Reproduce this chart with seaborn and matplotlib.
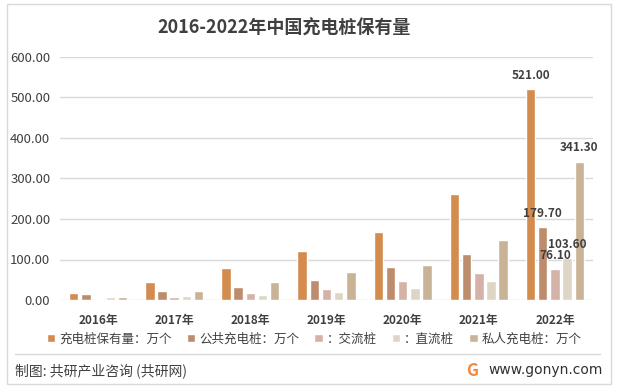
import pandas as pd
import matplotlib.pyplot as plt
import seaborn as sns
from matplotlib.patches import Rectangle

YEARS = ["2016年", "2017年", "2018年", "2019年", "2020年", "2021年", "2022年"]
SERIES = ["充电桩保有量：万个", "公共充电桩：万个", "：交流桩", "：直流桩", "私人充电桩：万个"]

total = [18.5, 43.5, 80.0, 122.0, 167.5, 262.0, 521.0]
public = [14.1, 21.4, 32.0, 50.0, 80.5, 114.7, 179.7]
ac = [2.5, 8.0, 17.5, 28.0, 48.0, 67.7, 76.1]
dc = [7.0, 10.5, 12.5, 20.5, 30.5, 46.5, 103.6]
private = [6.3, 23.2, 45.0, 70.3, 87.4, 147.0, 341.3]

COLORS = ["#D38B4E", "#BC8C6C", "#D5B2A8", "#DED6C4", "#C9B396"]
TXT = "#404040"

rows = []
for name, vals in zip(SERIES, [total, public, ac, dc, private]):
    for y, v in zip(YEARS, vals):
        rows.append({"year": y, "series": name, "value": v})
df = pd.DataFrame(rows)

sns.set_theme(style="white")
plt.rcParams["font.family"] = ["Noto Sans CJK SC", "DejaVu Sans"]

fig = plt.figure(figsize=(6.17, 3.9), dpi=100)
ax = fig.add_axes([60 / 617, 90 / 390, 533 / 617, 243 / 390])

sns.barplot(data=df, x="year", y="value", hue="series", order=YEARS,
            hue_order=SERIES, palette=COLORS, width=0.8, gap=0.22,
            saturation=1, ax=ax, legend=True, zorder=3)

ax.set_ylim(0, 600)
ax.set_yticks(range(0, 601, 100))
ax.set_yticklabels([f"{t:.2f}" for t in range(0, 601, 100)], fontsize=9.5, color=TXT)
ax.set_xlabel("")
ax.set_ylabel("")
ax.yaxis.grid(True, color="#D9D9D9", linewidth=1, zorder=0)
ax.set_axisbelow(True)
for s in ax.spines.values():
    s.set_visible(False)
ax.tick_params(axis="y", length=0, pad=7)
ax.tick_params(axis="x", length=0, pad=10)
for lab in ax.get_xticklabels():
    lab.set_fontsize(8.5)
    lab.set_fontweight("bold")
    lab.set_color(TXT)

# value labels for 2022 only
for cont, vals in zip(ax.containers, [total, public, ac, dc, private]):
    bar = cont.patches[-1]
    ax.annotate(f"{vals[-1]:.2f}", (bar.get_x() + bar.get_width() / 2, bar.get_height()),
                xytext=(0, 10), textcoords="offset points", ha="center", va="center",
                fontsize=8.5, fontweight="bold", color=TXT, zorder=5)

handles, labels = ax.get_legend_handles_labels()
ax.get_legend().remove()
fig.legend(handles, labels, loc="center", bbox_to_anchor=(0.509, 0.131), ncol=5,
           frameon=False, fontsize=9, handlelength=0.7, handleheight=0.7,
           handletextpad=0.3, columnspacing=1.2, labelcolor=TXT)

fig.text(284 / 617, 1 - 28 / 390, "2016-2022年中国充电桩保有量", ha="center", va="center",
         fontsize=13, fontweight="bold", color=TXT)

# footer
fig.add_artist(plt.Line2D([15 / 617, 600 / 617], [1 - 354 / 390] * 2, color="#D9D9D9", linewidth=1))
fig.text(15 / 617, 1 - 371 / 390, "制图: 共研产业咨询 (共研网)", ha="left", va="center",
         fontsize=10, color=TXT)
fig.text(472 / 617, 1 - 371 / 390, "G", ha="center", va="center", fontsize=12,
         fontweight="bold", color="#F08A3C")
fig.text(488 / 617, 1 - 370 / 390, "www.gonyn.com", ha="left", va="center",
         fontsize=10, color="#303030", family="DejaVu Sans")

fig.add_artist(Rectangle((7 / 617, 1 - 384 / 390), 604 / 617, 380 / 390, transform=fig.transFigure,
                         fill=False, edgecolor="#D9D9D9", linewidth=1))

fig.savefig("out.png", dpi=100)
